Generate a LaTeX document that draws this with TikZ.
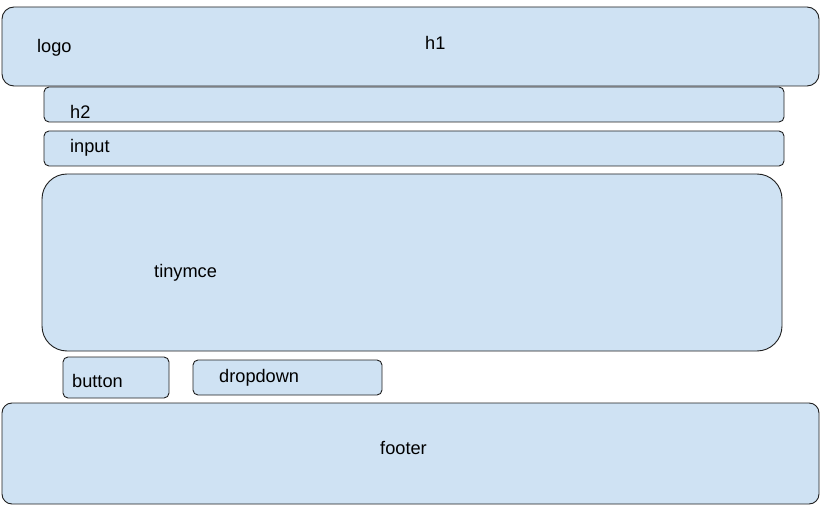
\documentclass[tikz,border=0pt]{standalone}
\usepackage{fontspec}
\setmainfont{Liberation Sans}
\definecolor{boxfill}{HTML}{CFE2F3}
\definecolor{boxline}{HTML}{1F1F1F}
\begin{document}
\begin{tikzpicture}[x=1pt,y=-1pt,
  box/.style={draw=boxline,fill=boxfill,line width=0.9pt,inner sep=0pt,outer sep=0pt},
  lbl/.style={anchor=base west,inner sep=0pt,font=\fontsize{18.2}{21}\selectfont,text=black}]
\useasboundingbox (0,0) rectangle (820,505);
\node[box,rounded corners=12pt,minimum width=817pt,minimum height=79pt] (h1box) at (410.5,46.5) {};
\node[box,rounded corners=5pt,minimum width=740pt,minimum height=35pt] (h2box) at (414,104.5) {};
\node[box,rounded corners=5pt,minimum width=740pt,minimum height=35pt] (inputbox) at (414,148.5) {};
\node[box,rounded corners=25pt,minimum width=740pt,minimum height=177pt] (tinybox) at (412,262.5) {};
\node[box,rounded corners=5pt,minimum width=106pt,minimum height=41pt] (buttonbox) at (116,377.5) {};
\node[box,rounded corners=5pt,minimum width=189pt,minimum height=35pt] (dropbox) at (287.5,377.5) {};
\node[box,rounded corners=10pt,minimum width=817pt,minimum height=101pt] (footerbox) at (410.5,453.5) {};
\node[lbl] (logo) at (37,53) {logo};
\node[lbl] (h1) at (425,50) {h1};
\node[lbl] (h2) at (70,119) {h2};
\node[lbl] (input) at (70,153) {input};
\node[lbl] (tinymce) at (154,278) {tinymce};
\node[lbl] (button) at (72,387) {button};
\node[lbl] (dropdown) at (219,382) {dropdown};
\node[lbl] (footer) at (380,454) {footer};
\end{tikzpicture}
\end{document}
